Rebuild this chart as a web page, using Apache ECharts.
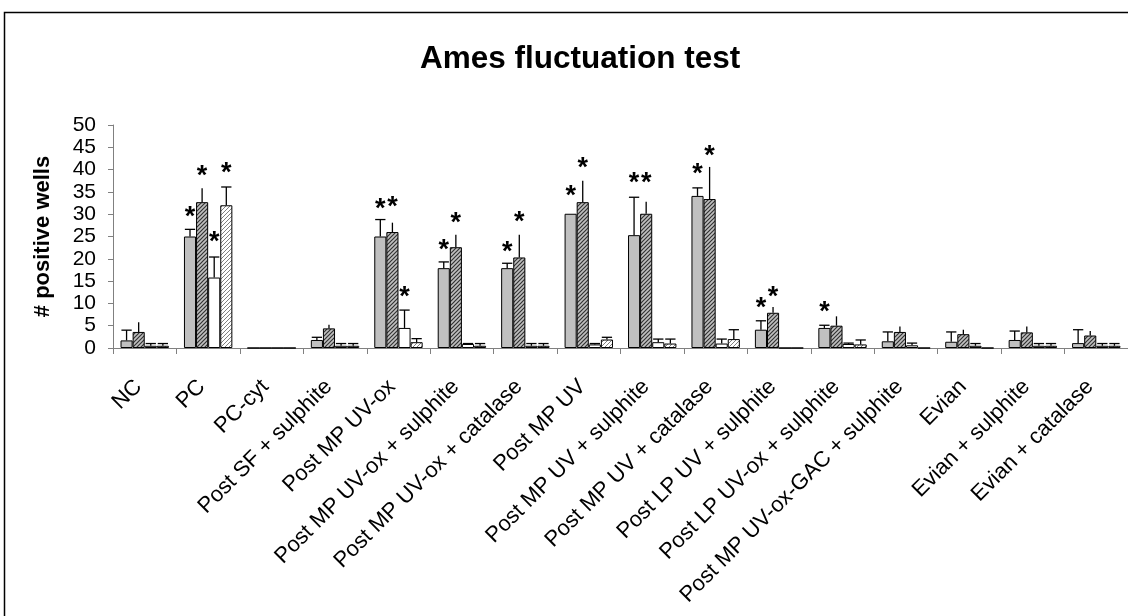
<!DOCTYPE html>
<html>
<head>
<meta charset="utf-8">
<script src="https://cdn.jsdelivr.net/npm/echarts@6/dist/echarts.min.js"></script>
<style>
html,body{margin:0;padding:0;background:#fff;}
#chart{width:1128px;height:616px;}
</style>
</head>
<body>
<div id="chart"></div>
<script>
var categories = ['NC','PC','PC-cyt','Post SF + sulphite','Post MP UV-ox','Post MP UV-ox + sulphite','Post MP UV-ox + catalase','Post MP UV','Post MP UV + sulphite','Post MP UV + catalase','Post LP UV + sulphite','Post LP UV-ox + sulphite','Post MP UV-ox-GAC + sulphite','Evian','Evian + sulphite','Evian + catalase'];

var yTicks = [0, 5, 10, 15, 20, 25, 30, 35, 40, 45, 50];

var grayVals   = [1.7, 25.0, 0, 1.8, 25.0, 17.9, 17.9, 30.1, 25.3, 34.1, 4.1, 4.5, 1.5, 1.4, 1.8, 1.1];
var grayErr    = [4.0, 26.6, 0, 2.4, 28.8, 19.3, 19.0, 30.1, 33.8, 35.9, 6.1, 5.1, 3.6, 3.6, 3.8, 4.1];
var hatchVals  = [3.6, 32.7, 0, 4.4, 26.0, 22.6, 20.3, 32.7, 30.1, 33.4, 7.9, 5.0, 3.6, 3.1, 3.5, 2.8];
var hatchErr   = [5.8, 35.8, 0, 5.2, 28.1, 25.4, 25.4, 37.5, 32.8, 40.6, 9.2, 7.1, 4.8, 4.1, 4.8, 3.8];
var whiteVals  = [0.5, 15.8, 0, 0.5, 4.5, 0.9, 0.5, 0.8, 1.3, 1.0, 0, 0.9, 0.6, 0.5, 0.5, 0.5];
var whiteErr   = [1.0, 20.4, 0, 1.0, 8.5, 1.0, 1.0, 1.0, 2.0, 2.0, 0, 1.1, 1.1, 1.0, 1.0, 1.0];
var wHatchVals = [0.5, 32.0, 0, 0.5, 1.3, 0.5, 0.5, 1.9, 1.0, 2.0, 0, 0.8, 0, 0, 0.5, 0.5];
var wHatchErr  = [1.0, 36.1, 0, 1.0, 2.1, 1.0, 1.0, 2.4, 2.0, 4.1, 0, 1.8, 0, 0, 1.0, 1.0];

var grayStars   = [null, 30.5, null, null, 32.3, 23.1, 22.8, 35.3, 38.2, 40.2, 10.1, 9.4, null, null, null, null];
var hatchStars  = [null, 39.7, null, null, 32.8, 29.2, 29.4, 41.5, 38.2, 44.2, 12.7, null, null, null, null, null];
var whiteStars  = [null, 25.1, null, null, 12.7, null, null, null, null, null, null, null, null, null, null, null];
var wHatchStars = [null, 40.5, null, null, null, null, null, null, null, null, null, null, null, null, null, null];

var FONT = "'Liberation Sans', Arial, sans-serif";
var GAP = 0.237;

function makeHatch(bg, fg, lw) {
  var s = 4;
  var c = document.createElement('canvas');
  c.width = s; c.height = s;
  var g = c.getContext('2d');
  g.fillStyle = bg; g.fillRect(0, 0, s, s);
  g.strokeStyle = fg; g.lineWidth = lw;
  g.beginPath();
  g.moveTo(0, s); g.lineTo(s, 0);
  g.moveTo(-1, 1); g.lineTo(1, -1);
  g.moveTo(s - 1, s + 1); g.lineTo(s + 1, s - 1);
  g.stroke();
  return c;
}

var darkHatch = makeHatch('#c0c0c0', '#333333', 1.2);
var lightHatch = makeHatch('#ffffff', '#808080', 1.0);

function barSeries(name, vals, fill) {
  return {
    name: name, type: 'bar', data: vals,
    barGap: '0%', barCategoryGap: (GAP * 100) + '%',
    itemStyle: { color: fill, borderColor: '#000', borderWidth: 1 },
    silent: true, z: 2
  };
}

function errSeries(idx, vals, errs, cap) {
  var data = vals.map(function (v, i) { return [i, v, errs[i]]; });
  return {
    type: 'custom', z: 3, silent: true, data: data,
    renderItem: function (params, api) {
      var ci = api.value(0), v = api.value(1), e = api.value(2);
      if (!(e > v)) return null;
      var p0 = api.coord([ci, v]);
      var p1 = api.coord([ci, e]);
      var cw = api.size([1, 0])[0];
      var bw = cw * (1 - GAP) / 4;
      var x = p0[0] + (idx - 1.5) * bw;
      var children = [{
        type: 'line', shape: { x1: x, y1: p0[1], x2: x, y2: p1[1] },
        style: { stroke: '#000', lineWidth: 1.3 }
      }];
      if (cap) {
        var cwid = bw * 0.85;
        children.push({
          type: 'line', shape: { x1: x - cwid / 2, y1: p1[1], x2: x + cwid / 2, y2: p1[1] },
          style: { stroke: '#000', lineWidth: 1.3 }
        });
      }
      return { type: 'group', children: children };
    }
  };
}

function starSeries(idx, stars) {
  var data = [];
  stars.forEach(function (s, i) { if (s != null) data.push([i, s]); });
  return {
    type: 'custom', z: 4, silent: true, data: data,
    renderItem: function (params, api) {
      var p = api.coord([api.value(0), api.value(1)]);
      var cw = api.size([1, 0])[0];
      var bw = cw * (1 - GAP) / 4;
      var x = p[0] + (idx - 1.5) * bw;
      return {
        type: 'text',
        style: {
          x: x, y: p[1] + 6, text: '*',
          font: 'bold 27px ' + FONT, fill: '#000',
          textAlign: 'center', textVerticalAlign: 'middle'
        }
      };
    }
  };
}

var chart = echarts.init(document.getElementById('chart'), null, { renderer: 'canvas' });
chart.setOption({
  animation: false,
  backgroundColor: '#fff',
  title: {
    text: 'Ames fluctuation test',
    left: 415, top: 38,
    textStyle: { fontFamily: FONT, fontSize: 31.5, fontWeight: 'bold', color: '#000' }
  },
  graphic: [{
    type: 'rect', silent: true, z: 0,
    shape: { x: 4.5, y: 12.5, width: 1300, height: 800 },
    style: { fill: 'none', stroke: '#000', lineWidth: 1.5 }
  }],
  grid: { left: 113, top: 125, width: 1017, height: 223, containLabel: false },
  xAxis: {
    type: 'category', data: categories,
    axisLine: { lineStyle: { color: '#808080', width: 1 } },
    axisTick: { show: true, length: 6, lineStyle: { color: '#808080' } },
    axisLabel: {
      rotate: 45, interval: 0, margin: 29, color: '#000',
      fontFamily: FONT, fontSize: 22, padding: [0, 9, 18, 0]
    },
    splitLine: { show: false }
  },
  yAxis: {
    type: 'value', min: yTicks[0], max: yTicks[yTicks.length - 1], interval: 5,
    name: '# positive wells', nameLocation: 'middle', nameRotate: 90, nameGap: 59,
    nameTextStyle: { fontFamily: FONT, fontSize: 22, fontWeight: 'bold', color: '#000' },
    axisLine: { show: true, lineStyle: { color: '#808080', width: 1 } },
    axisTick: { show: true, length: 5, lineStyle: { color: '#808080' } },
    axisLabel: { margin: 17, color: '#000', fontFamily: FONT, fontSize: 21 },
    splitLine: { show: false }
  },
  series: [
    barSeries('A', grayVals, '#c0c0c0'),
    barSeries('B', hatchVals, { image: darkHatch, repeat: 'repeat' }),
    barSeries('C', whiteVals, '#ffffff'),
    barSeries('D', wHatchVals, { image: lightHatch, repeat: 'repeat' }),
    errSeries(0, grayVals, grayErr, true),
    errSeries(1, hatchVals, hatchErr, false),
    errSeries(2, whiteVals, whiteErr, true),
    errSeries(3, wHatchVals, wHatchErr, true),
    starSeries(0, grayStars),
    starSeries(1, hatchStars),
    starSeries(2, whiteStars),
    starSeries(3, wHatchStars)
  ]
});
</script>
</body>
</html>
